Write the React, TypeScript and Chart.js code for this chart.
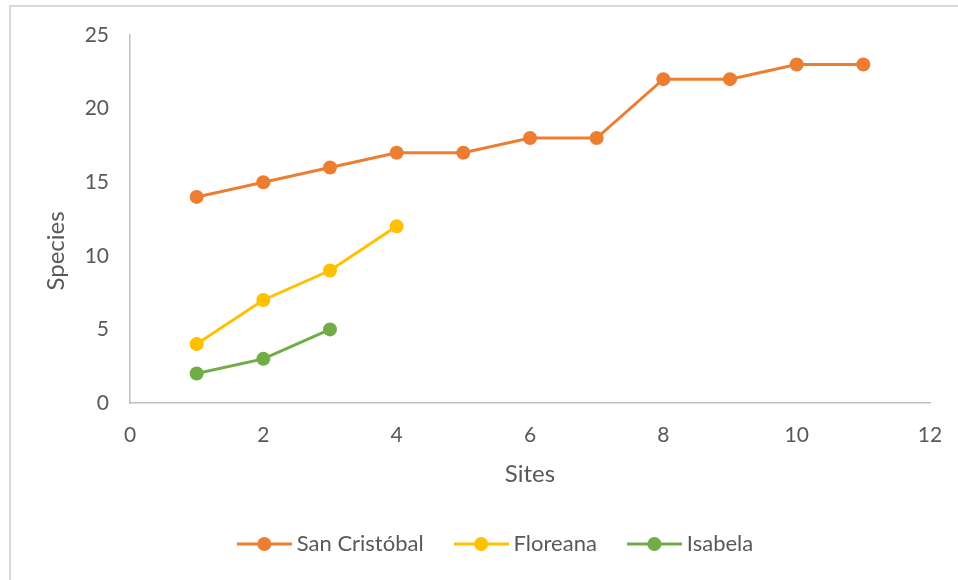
import React, { useEffect, useRef } from "react";
import { Chart, registerables } from "chart.js";

Chart.register(...registerables);

const seriesNames = ["San Cristóbal", "Floreana", "Isabela"];
const sanCristobalSites = [1, 2, 3, 4, 5, 6, 7, 8, 9, 10, 11];
const sanCristobalSpecies = [14, 15, 16, 17, 17, 18, 18, 22, 22, 23, 23];
const floreanaSites = [1, 2, 3, 4];
const floreanaSpecies = [4, 7, 9, 12];
const isabelaSites = [1, 2, 3];
const isabelaSpecies = [2, 3, 5];
const seriesColors = ["#ED7D31", "#FFC000", "#70AD47"];
const xTitle = "Sites";
const yTitle = "Species";

const FONT = "Lato, 'Noto Sans', sans-serif";
const TEXT = "#595959";

function makeMarker(color: string): HTMLCanvasElement {
  const c = document.createElement("canvas");
  c.width = 55;
  c.height = 16;
  const g = c.getContext("2d")!;
  g.strokeStyle = color;
  g.lineWidth = 3;
  g.beginPath();
  g.moveTo(0, 8);
  g.lineTo(55, 8);
  g.stroke();
  g.fillStyle = color;
  g.beginPath();
  g.arc(27.5, 8, 7, 0, Math.PI * 2);
  g.fill();
  return c;
}

const yTitlePlugin = {
  id: "yTitlePlugin",
  afterDraw(chart: any) {
    const ctx = chart.ctx;
    ctx.save();
    ctx.translate(56, 251);
    ctx.rotate(-Math.PI / 2);
    ctx.font = `24px ${FONT}`;
    ctx.fillStyle = TEXT;
    ctx.textAlign = "center";
    ctx.textBaseline = "middle";
    ctx.fillText(yTitle, 0, 0);
    ctx.restore();
  },
};

export default function App() {
  const ref = useRef<HTMLCanvasElement | null>(null);

  useEffect(() => {
    if (!ref.current) return;
    const toPts = (xs: number[], ys: number[]) => xs.map((x, i) => ({ x, y: ys[i] }));
    const allSeries = [
      toPts(sanCristobalSites, sanCristobalSpecies),
      toPts(floreanaSites, floreanaSpecies),
      toPts(isabelaSites, isabelaSpecies),
    ];
    const markers = seriesColors.map(makeMarker);
    const chart = new Chart(ref.current, {
      type: "scatter",
      data: {
        datasets: allSeries.map((d, i) => ({
          label: seriesNames[i],
          data: d,
          showLine: true,
          borderColor: seriesColors[i],
          backgroundColor: seriesColors[i],
          borderWidth: 3,
          pointRadius: 7,
          pointHoverRadius: 7,
          pointBorderWidth: 0,
        })),
      },
      options: {
        responsive: false,
        animation: false,
        layout: { padding: { left: 0, right: -38, top: 35, bottom: 15 } },
        plugins: {
          tooltip: { enabled: false },
          legend: {
            position: "bottom",
            labels: {
              usePointStyle: true,
              pointStyleWidth: 43,
              padding: 36,
              color: TEXT,
              font: { family: FONT, size: 22 },
              generateLabels: (ch: any) => {
                const items = Chart.defaults.plugins.legend.labels.generateLabels(ch);
                return items.map((it: any, i: number) => ({ ...it, pointStyle: markers[i] }));
              },
            },
          },
        },
        scales: {
          x: {
            type: "linear",
            min: 0,
            max: 12,
            ticks: { stepSize: 2, color: TEXT, font: { family: FONT, size: 21 }, padding: 20 },
            grid: { display: false, drawTicks: false },
            border: { color: "#bfbfbf", width: 1.5 },
            title: {
              display: true,
              text: xTitle,
              color: TEXT,
              font: { family: FONT, size: 24 },
              padding: { top: 0, bottom: 8.6 },
            },
            afterFit: (s: any) => {
              s.height = 94;
              s.paddingRight = 28;
              s.paddingLeft = 0;
            },
          },
          y: {
            type: "linear",
            min: 0,
            max: 25,
            ticks: { stepSize: 5, color: TEXT, font: { family: FONT, size: 21 }, padding: 21 },
            grid: { display: false, drawTicks: false },
            border: { color: "#bfbfbf", width: 1.5 },
            afterFit: (s: any) => {
              s.width = 130;
              s.paddingTop = 0;
              s.paddingBottom = 0;
            },
          },
        },
      },
      plugins: [yTitlePlugin],
    } as any);
    return () => chart.destroy();
  }, []);

  return (
    <div style={{ position: "fixed", left: 0, top: 0, width: 958, height: 580, overflow: "hidden", background: "#fff" }}>
      <div
        style={{
          position: "absolute",
          left: 9,
          top: 5,
          width: 1000,
          height: 1000,
          borderTop: "2px solid #d9d9d9",
          borderLeft: "2px solid #d9d9d9",
        }}
      />
      <canvas ref={ref} width={958} height={580} style={{ position: "absolute", left: 0, top: 0 }} />
    </div>
  );
}
